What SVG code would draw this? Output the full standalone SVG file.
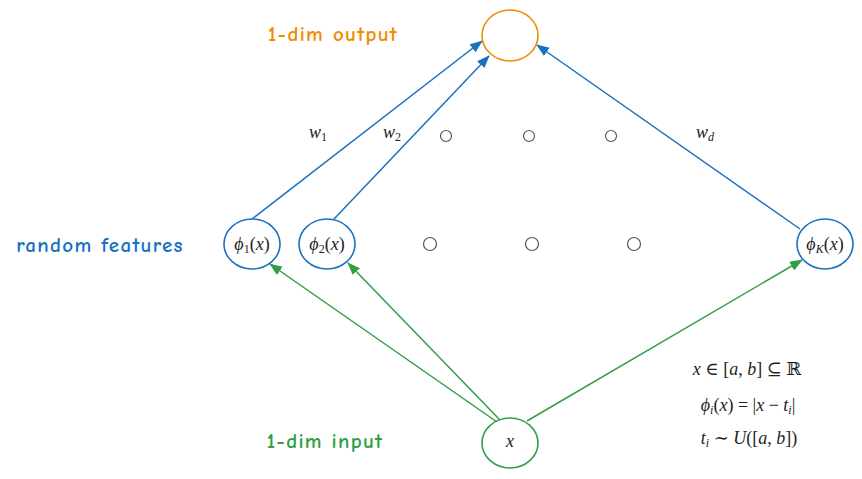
<svg xmlns="http://www.w3.org/2000/svg" width="862" height="479" viewBox="0 0 862 479">
<defs>
<marker id="ab" markerWidth="13" markerHeight="11" refX="12" refY="5.5" orient="auto" markerUnits="userSpaceOnUse" viewBox="0 0 13 11"><path d="M0,0.5 L13,5.5 L0,10.5 z" fill="#1971c2"/></marker>
<marker id="ag" markerWidth="13" markerHeight="11" refX="12" refY="5.5" orient="auto" markerUnits="userSpaceOnUse" viewBox="0 0 13 11"><path d="M0,0.5 L13,5.5 L0,10.5 z" fill="#2f9e44"/></marker>
</defs>
<style>
.hand{font-family:"Comic Neue","Lato","Noto Sans",sans-serif;font-size:21px;letter-spacing:1.3px;font-weight:600;}
.m{font-family:"Liberation Serif","DejaVu Serif",serif;font-style:italic;font-size:18px;fill:#1e1e1e;}
.mr{font-style:normal;}
.sub{font-size:12px;}
.node{fill:#fff;stroke-width:1.6;}
.dot{fill:none;stroke:#555;stroke-width:1.2;}
.cb{stroke:#1971c2;stroke-width:1.5;fill:none;}
.cg{stroke:#2f9e44;stroke-width:1.5;fill:none;}
</style>
<rect width="862" height="479" fill="#fff"/>
<g id="connectors">
<path class="cb" d="M252,219 L482,41" marker-end="url(#ab)"/>
<path class="cb" d="M334,219 L489,56" marker-end="url(#ab)"/>
<path class="cb" d="M800,229 L537,45" marker-end="url(#ab)"/>
<path class="cg" d="M497,422 L270,264" marker-end="url(#ag)"/>
<path class="cg" d="M500,420 L348,263" marker-end="url(#ag)"/>
<path class="cg" d="M527,421 L802,260" marker-end="url(#ag)"/>
</g>
<g id="output">
<ellipse class="node" cx="510" cy="35.5" rx="28" ry="25.5" stroke="#f08c00"/>
</g>
<g id="phi1">
<ellipse class="node" cx="252" cy="244" rx="28" ry="25" stroke="#1971c2"/>
<text class="m" x="252" y="250" text-anchor="middle">ϕ<tspan class="sub mr" dy="3">1</tspan><tspan class="mr" dy="-3">(</tspan>x<tspan class="mr">)</tspan></text>
</g>
<g id="phi2">
<ellipse class="node" cx="327" cy="244" rx="28" ry="25" stroke="#1971c2"/>
<text class="m" x="327" y="250" text-anchor="middle">ϕ<tspan class="sub mr" dy="3">2</tspan><tspan class="mr" dy="-3">(</tspan>x<tspan class="mr">)</tspan></text>
</g>
<g id="phiK">
<ellipse class="node" cx="825" cy="244" rx="28" ry="25" stroke="#1971c2"/>
<text class="m" x="825" y="250" text-anchor="middle" font-size="17">ϕ<tspan class="sub" dy="3">K</tspan><tspan class="mr" dy="-3">(</tspan>x<tspan class="mr">)</tspan></text>
</g>
<g id="input">
<ellipse class="node" cx="510" cy="443" rx="28" ry="25" stroke="#2f9e44"/>
<text class="m" x="510" y="447" text-anchor="middle" font-size="13">x</text>
</g>
<g id="dots">
<circle class="dot" cx="446" cy="136" r="5.5"/>
<circle class="dot" cx="529" cy="136" r="5.5"/>
<circle class="dot" cx="611" cy="136" r="5.5"/>
<circle class="dot" cx="430" cy="244" r="6.5"/>
<circle class="dot" cx="532" cy="244" r="6.5"/>
<circle class="dot" cx="634" cy="244" r="6.5"/>
</g>
<g id="labels">
<text class="hand" x="333" y="41" text-anchor="middle" fill="#f08c00">1-dim output</text>
<text class="hand" x="100" y="252" text-anchor="middle" fill="#1971c2">random features</text>
<text class="hand" x="325" y="448" text-anchor="middle" fill="#2f9e44">1-dim input</text>
<text class="m" x="318" y="138" text-anchor="middle" font-size="15">w<tspan class="sub mr" dy="3" font-size="10">1</tspan></text>
<text class="m" x="392" y="138" text-anchor="middle" font-size="15">w<tspan class="sub mr" dy="3" font-size="10">2</tspan></text>
<text class="m" x="705" y="138" text-anchor="middle" font-size="15">w<tspan class="sub" dy="3" font-size="10">d</tspan></text>
<text class="m" x="747" y="375" text-anchor="middle" font-size="16.5">x <tspan class="mr">∈ [</tspan>a<tspan class="mr">, </tspan>b<tspan class="mr">] ⊆ ℝ</tspan></text>
<text class="m" x="748" y="411" text-anchor="middle" font-size="16.5">ϕ<tspan class="sub" dy="3" font-size="11">i</tspan><tspan class="mr" dy="-3">(</tspan>x<tspan class="mr">) = |</tspan>x<tspan class="mr"> − </tspan>t<tspan class="sub" dy="3" font-size="11">i</tspan><tspan class="mr" dy="-3">|</tspan></text>
<text class="m" x="749" y="444" text-anchor="middle" font-size="16.5">t<tspan class="sub" dy="3" font-size="11">i</tspan><tspan class="mr" dy="-3"> ∼ </tspan>U<tspan class="mr">([</tspan>a<tspan class="mr">, </tspan>b<tspan class="mr">])</tspan></text>
</g>
</svg>
